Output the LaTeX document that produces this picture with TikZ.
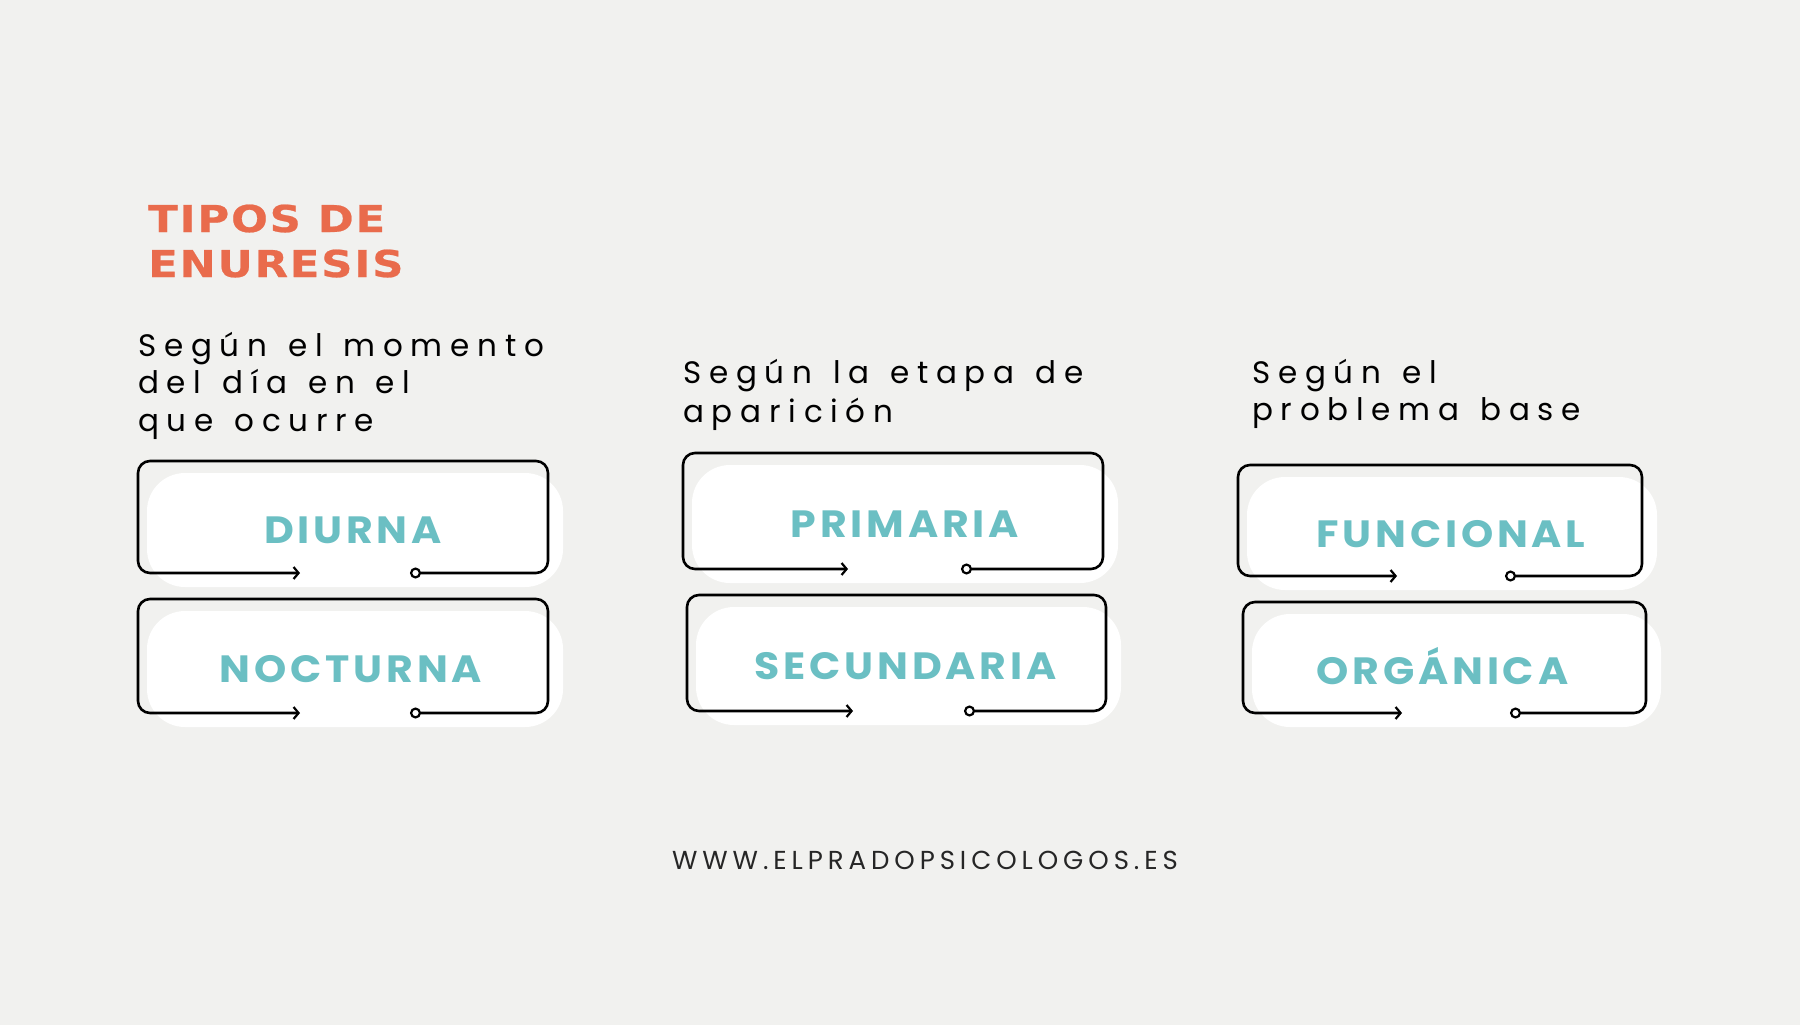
\documentclass[tikz,border=0pt]{standalone}
\usepackage{fontspec}
\usetikzlibrary{arrows.meta}
\newfontfamily\titlefont[FakeStretch=1.17,LetterSpace=5,FakeBold=0.6]{DejaVu Sans}
\newfontfamily\subfont[LetterSpace=25,WordSpace=1.3]{Poppins}
\newfontfamily\labelfont[FakeStretch=1.08,LetterSpace=10]{Poppins}
\newfontfamily\footfont[LetterSpace=19]{Poppins}
\definecolor{bg}{HTML}{F1F1EF}
\definecolor{orangeT}{HTML}{E96B4C}
\definecolor{tealT}{HTML}{6BBFC3}
\newcommand\tipobox[9]{%
  \pgfmathsetmacro\pw{#4-#2+6}\pgfmathsetmacro\ph{#5-#3+2}%
  \pgfmathsetmacro\pcx{(#2+#4+24)/2}\pgfmathsetmacro\pcy{(#3+#5+26)/2}%
  \node[pill, minimum width=\pw pt, minimum height=\ph pt] (#1) at (\pcx,\pcy) {};
  \node[lbl, xshift=#9pt] (#1-l) at (#1.center) {#8};
  \coordinate (#1-c) at (#7,#5); \coordinate (#1-br) at (#4,#5);
  \coordinate (#1-tr) at (#4,#3); \coordinate (#1-tl) at (#2,#3);
  \coordinate (#1-bl) at (#2,#5); \coordinate (#1-a) at (#6,#5);
  \draw[outline] (#1-c) -- (#1-br) -- (#1-tr) -- (#1-tl) -- (#1-bl) -- (#1-a);
}
\begin{document}
\begin{tikzpicture}[x=1pt,y=-1pt,
  pill/.style={draw=none, fill=white, rounded corners=38pt, inner sep=0pt},
  lbl/.style={inner sep=0pt, text=tealT, font=\labelfont\bfseries\fontsize{38}{40}\selectfont,
    text height=27pt, text depth=0pt},
  outline/.style={draw=black, line width=2.6pt, rounded corners=12pt,
    {Circle[open,length=11pt,width=11pt,line width=2.2pt]}-{Straight Barb[length=5pt,width=12pt,line width=2.2pt]}},
  ttl/.style={anchor=base west, inner sep=0pt, text=orangeT, font=\titlefont\bfseries\fontsize{37}{40}\selectfont},
  sub/.style={anchor=base west, inner sep=0pt, text=black, font=\subfont\fontsize{31}{36}\selectfont},
  foot/.style={anchor=base, inner sep=0pt, text=black!85, font=\footfont\fontsize{26}{30}\selectfont}]
\fill[bg] (0,0) rectangle (1800,1025);
\useasboundingbox (0,0) rectangle (1800,1025);
% title
\node[ttl] (t1) at (148,232) {TIPOS DE};
\node[ttl] (t2) at (148,277) {ENURESIS};
% subtitles
\node[sub] (s1a) at (138,356) {Según el momento};
\node[sub] (s1b) at (138,393) {del día en el};
\node[sub] (s1c) at (138,431) {que ocurre};
\node[sub] (s2a) at (683,383) {Según la etapa de};
\node[sub] (s2b) at (683,422) {aparición};
\node[sub] (s3a) at (1252,383) {Según el};
\node[sub] (s3b) at (1252,420) {problema base};
% boxes
\tipobox{diurna}{138}{461}{548}{573}{300}{410}{DIURNA}{-2}
\tipobox{nocturna}{138}{599}{548}{713}{300}{410}{NOCTURNA}{-4}
\tipobox{primaria}{683}{453}{1103}{569}{848}{961}{PRIMARIA}{0}
\tipobox{secundaria}{687}{595}{1106}{711}{853}{964}{SECUNDARIA}{-3}
\tipobox{funcional}{1238}{465}{1642}{576}{1397}{1505}{FUNCIONAL}{-1}
\tipobox{organica}{1243}{602}{1646}{713}{1402}{1510}{ORGÁNICA}{-14}
% footer
\node[foot] (web) at (925,869) {WWW.ELPRADOPSICOLOGOS.ES};
\end{tikzpicture}
\end{document}
